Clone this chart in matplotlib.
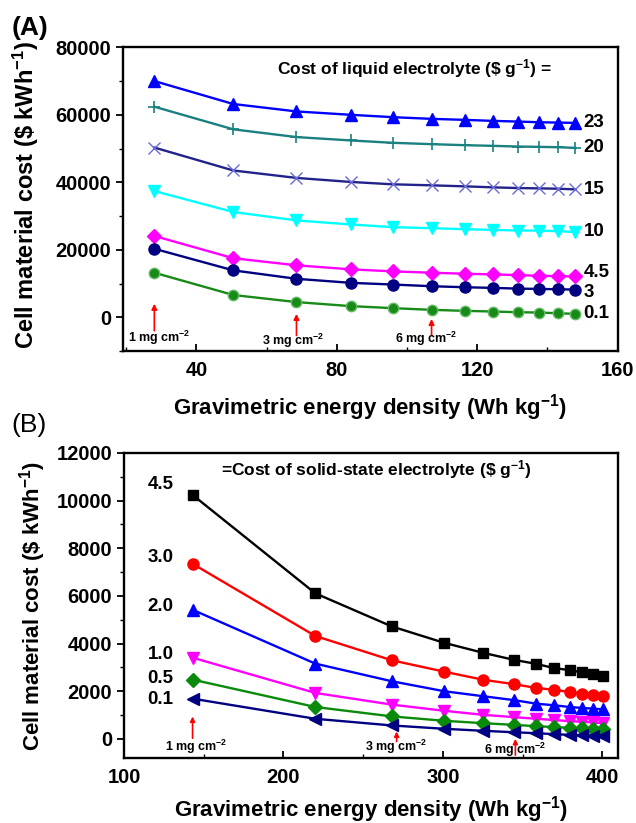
import matplotlib
matplotlib.use('Agg')
import matplotlib.pyplot as plt
from matplotlib.ticker import MultipleLocator

plt.rcParams['font.family'] = 'Liberation Sans'
plt.rcParams['font.weight'] = 'bold'
plt.rcParams['mathtext.fontset'] = 'custom'
plt.rcParams['mathtext.rm'] = 'Liberation Sans:bold'
plt.rcParams['mathtext.it'] = 'Liberation Sans:bold'
plt.rcParams['mathtext.default'] = 'rm'

# (A) liquid electrolyte
x_liquid = [28, 50.5, 68.5, 84, 96, 107, 116.5, 124.5, 131.5, 137.5, 143, 148]
liquid_labels = ['23', '20', '15', '10', '4.5', '3', '0.1']
liq_23 = [70000, 63200, 61000, 60000, 59300, 58800, 58500, 58200, 58000, 57800, 57700, 57600]
liq_20 = [62400, 55700, 53400, 52400, 51700, 51300, 51000, 50800, 50600, 50500, 50400, 50200]
liq_15 = [50300, 43500, 41300, 40100, 39400, 39100, 38800, 38500, 38300, 38200, 38100, 37900]
liq_10 = [37400, 31200, 28700, 27500, 26700, 26400, 26100, 25900, 25700, 25700, 25500, 25300]
liq_45 = [24100, 17500, 15400, 14200, 13600, 13200, 12900, 12700, 12500, 12300, 12200, 12100]
liq_3 = [20300, 13900, 11400, 10200, 9700, 9200, 8900, 8700, 8500, 8400, 8300, 8200]
liq_01 = [13200, 6600, 4500, 3300, 2700, 2200, 1900, 1700, 1500, 1400, 1200, 1000]

# (B) solid-state electrolyte
x_solid = [143, 220, 268, 301, 325.5, 344.5, 358.5, 370, 379.5, 387.5, 394.5, 400.5]
solid_labels = ['4.5', '3.0', '2.0', '1.0', '0.5', '0.1']
sol_45 = [10240, 6110, 4720, 4030, 3610, 3320, 3150, 2970, 2890, 2790, 2720, 2650]
sol_30 = [7350, 4320, 3300, 2820, 2480, 2300, 2140, 2060, 1970, 1900, 1830, 1790]
sol_20 = [5420, 3160, 2420, 2000, 1790, 1630, 1480, 1410, 1340, 1300, 1270, 1240]
sol_10 = [3410, 1930, 1440, 1180, 1010, 915, 845, 790, 745, 720, 690, 660]
sol_05 = [2490, 1340, 945, 760, 660, 590, 535, 495, 465, 440, 425, 410]
sol_01 = [1690, 845, 565, 425, 340, 280, 240, 200, 170, 155, 140, 130]

loading_labels = ['1 mg cm$^{-2}$', '3 mg cm$^{-2}$', '6 mg cm$^{-2}$']

fig = plt.figure(figsize=(6.36, 8.23), dpi=100)
axA = fig.add_axes([0.193, 0.5735, 0.778, 0.369])
axB = fig.add_axes([0.195, 0.079, 0.777, 0.3706])

# ---- panel A ----
styleA = [
    dict(color='#0000ff', marker='^', ms=8, mfc='#0000ff', mec='#0000ff'),
    dict(color='#1a8080', marker='+', ms=8, mfc='#1a8080', mec='#1a8080', mew=1.2),
    dict(color='#22228a', marker='x', ms=8, mfc='#6a6ad8', mec='#6a6ad8', mew=1.0),
    dict(color='#00ffff', marker='v', ms=8, mfc='#00ffff', mec='#00ffff'),
    dict(color='#ff00ff', marker='D', ms=7, mfc='#ff00ff', mec='#ff00ff'),
    dict(color='#000080', marker='o', ms=8, mfc='#000080', mec='#000080'),
    dict(color='#178a17', marker='o', ms=7.5, mfc='#178a17', mec='#66bb66', mew=1.0),
]
liquid_series = [liq_23, liq_20, liq_15, liq_10, liq_45, liq_3, liq_01]
label_dy_A = [0, 0, 0, 0, 1200, -800, 0]
for ys, st, lab, dy in zip(liquid_series, styleA, liquid_labels, label_dy_A):
    axA.plot(x_liquid, ys, lw=1.7, **st)
    axA.text(x_liquid[-1] + 2.3, ys[-1] + dy, lab, fontsize=13.5, fontweight='bold',
             ha='left', va='center')

axA.text(102, 73800, r'Cost of liquid electrolyte (\$ g$^{-1}$) =', fontsize=12.5,
         fontweight='bold', ha='center', va='center')

arrowsA = [(x_liquid[0], 4000, -4000, 29.5, -6000),
           (x_liquid[2], 1000, -5400, 67.6, -6900),
           (x_liquid[5], -500, -5400, 105.4, -6400)]
for (xa, y0, y1, xt, yt), lab in zip(arrowsA, loading_labels):
    axA.annotate('', xy=(xa, y0), xytext=(xa, y1),
                 arrowprops=dict(arrowstyle='-|>', color='red', lw=1.2,
                                 mutation_scale=8, shrinkA=0, shrinkB=0))
    axA.text(xt, yt, lab, fontsize=9, fontweight='bold', ha='center', va='center')

axA.set_xlim(19, 160)
axA.set_ylim(-10000, 80000)
axA.xaxis.set_major_locator(MultipleLocator(40))
axA.xaxis.set_minor_locator(MultipleLocator(20))
axA.yaxis.set_major_locator(MultipleLocator(20000))
axA.yaxis.set_minor_locator(MultipleLocator(10000))
axA.set_xlabel(r'Gravimetric energy density (Wh kg$^{-1}$)', fontsize=16,
               fontweight='bold', labelpad=9)
axA.set_ylabel(r'Cell material cost (\$ kWh$^{-1}$)', fontsize=17, fontweight='bold')
axA.yaxis.set_label_coords(-0.165, 0.515)
fig.text(0.018, 0.9665, '(A)', fontsize=19, fontweight='bold', va='center')

# ---- panel B ----
styleB = [
    dict(color='black', marker='s', ms=7.5),
    dict(color='#ff0000', marker='o', ms=8),
    dict(color='#0000ff', marker='^', ms=8),
    dict(color='#ff00ff', marker='v', ms=8),
    dict(color='#0a8a0a', marker='D', ms=7),
    dict(color='#000080', marker='<', ms=8),
]
solid_series = [sol_45, sol_30, sol_20, sol_10, sol_05, sol_01]
label_dy_B = [420, 280, 130, 140, 40, -40]
for ys, st, lab, dy in zip(solid_series, styleB, solid_labels, label_dy_B):
    axB.plot(x_solid, ys, lw=1.7, **st)
    axB.text(131, ys[0] + dy, lab, fontsize=13.5, fontweight='bold',
             ha='right', va='center')

axB.text(258, 11300, r'=Cost of solid-state electrolyte (\$ g$^{-1}$)', fontsize=12.5,
         fontweight='bold', ha='center', va='center')

arrowsB = [(x_solid[0], 940, 30, 145, -330),
           (271, 310, -110, 271, -330),
           (345.5, 0, -680, 345.5, -460)]
for (xa, y0, y1, xt, yt), lab in zip(arrowsB, loading_labels):
    axB.annotate('', xy=(xa, y0), xytext=(xa, y1),
                 arrowprops=dict(arrowstyle='-|>', color='red', lw=1.2,
                                 mutation_scale=7, shrinkA=0, shrinkB=0))
    axB.text(xt, yt, lab, fontsize=9, fontweight='bold', ha='center', va='center')

axB.set_xlim(100, 410)
axB.set_ylim(-800, 12000)
axB.xaxis.set_major_locator(MultipleLocator(100))
axB.xaxis.set_minor_locator(MultipleLocator(50))
axB.yaxis.set_major_locator(MultipleLocator(2000))
axB.yaxis.set_minor_locator(MultipleLocator(1000))
axB.set_xlabel(r'Gravimetric energy density (Wh kg$^{-1}$)', fontsize=16,
               fontweight='bold', labelpad=5)
axB.set_ylabel(r'Cell material cost (\$ kWh$^{-1}$)', fontsize=16, fontweight='bold',
               labelpad=6)
fig.text(0.018, 0.483, '(B)', fontsize=19, fontweight='normal', va='center')

for ax in (axA, axB):
    for sp in ax.spines.values():
        sp.set_linewidth(1.7)
    ax.tick_params(axis='x', which='both', direction='in', top=False, labelsize=14.5, pad=7)
    ax.tick_params(axis='y', which='both', direction='out', right=False, labelsize=14.5)
    ax.tick_params(which='major', length=5, width=1.3)
    ax.tick_params(which='minor', length=3, width=1.0)
    for t in ax.get_xticklabels() + ax.get_yticklabels():
        t.set_fontweight('bold')

fig.savefig('out.png', dpi=100)
